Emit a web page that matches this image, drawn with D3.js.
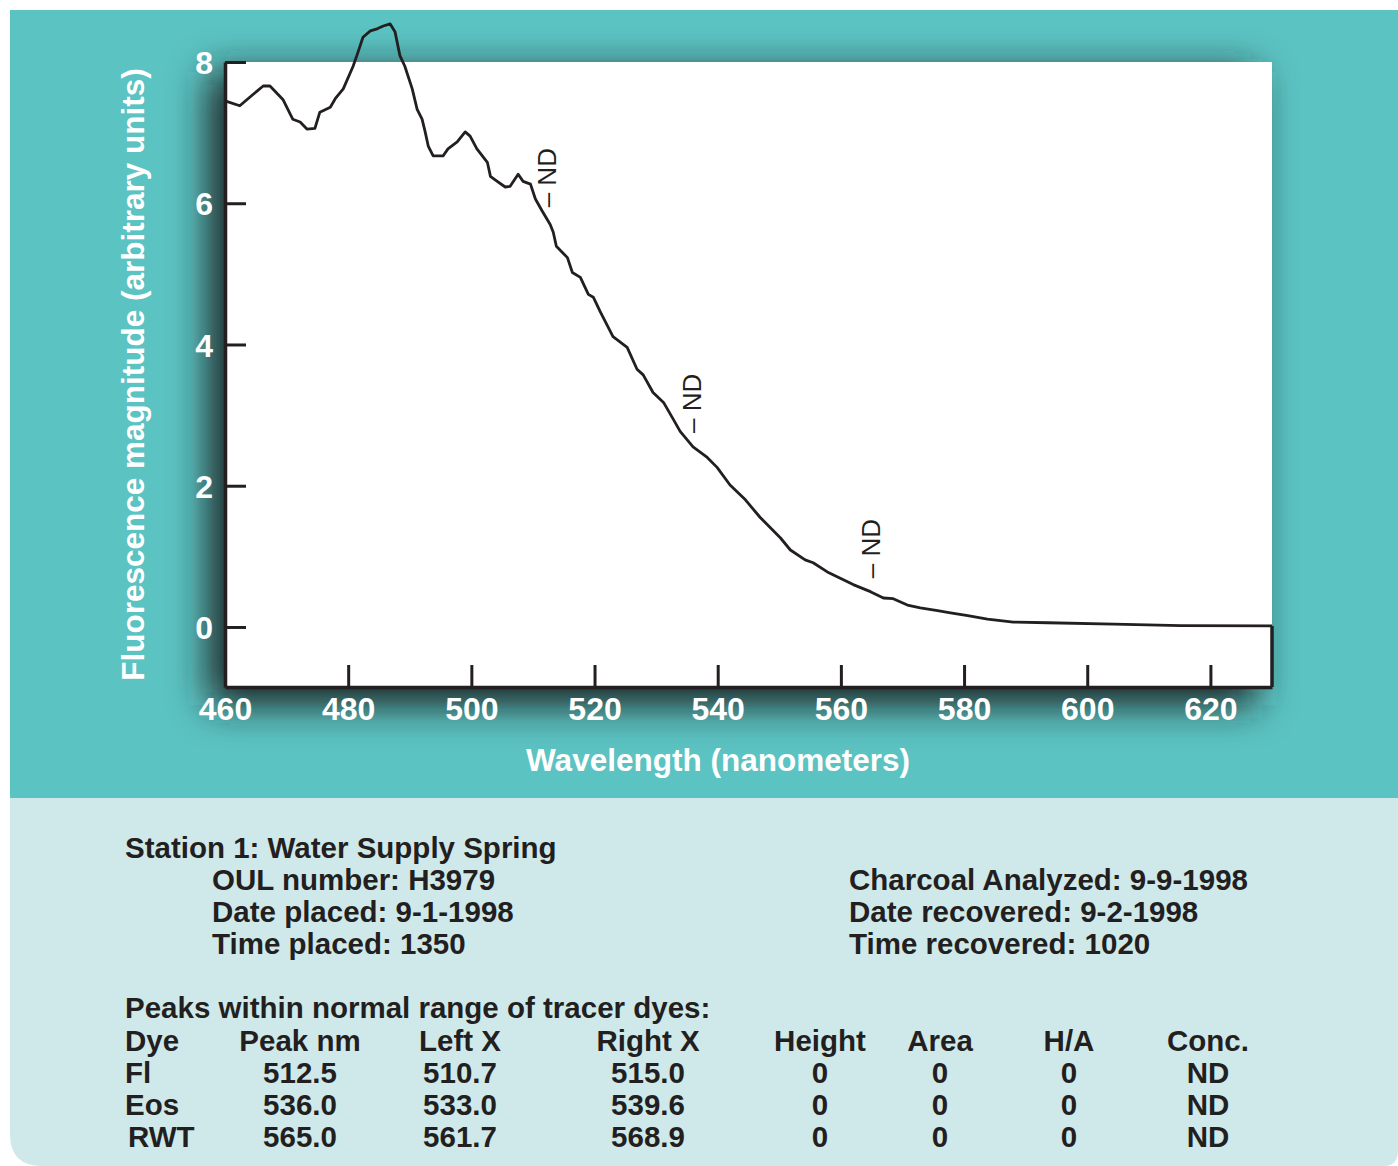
<!DOCTYPE html>
<html>
<head>
<meta charset="utf-8">
<script src="https://cdn.jsdelivr.net/npm/d3@7"></script>
<style>
  body { margin: 0; background: #fff; }
  svg { display: block; }
</style>
</head>
<body>
<div id="container"></div>
<script>
/* CONSTANTS AND GLOBALS */
const width = 1398,
  height = 1166,
  plot = { left: 225, right: 1272, top: 62, bottom: 687 };

const teal = "#5bc3c2",
  pale = "#cfe9ea",
  ink = "#231f20";

/* DATA */
// spectrum
const wavelength = [
  460.0, 462.4, 464.4, 466.2, 467.3, 469.4, 471.0, 472.2, 473.3, 474.6,
  475.4, 477.1, 477.9, 479.2, 480.8, 481.6, 482.4, 483.6, 484.7, 485.7,
  486.8, 487.6, 488.4, 489.2, 490.4, 491.2, 492.0, 492.5, 493.0, 493.8,
  495.4, 496.2, 497.7, 499.0, 499.8, 500.9, 502.6, 503.1, 504.2, 505.5,
  506.3, 507.6, 508.4, 509.6, 510.4, 511.5, 512.8, 513.3, 513.8, 515.6,
  516.4, 517.7, 519.0, 519.8, 520.9, 523.0, 525.3, 526.9, 527.9, 529.5,
  531.2, 532.8, 533.9, 536.0, 538.3, 539.9, 542.0, 544.5, 546.9, 550.2,
  551.8, 554.2, 555.5, 557.8, 559.9, 562.0, 564.8, 566.9, 568.5, 570.8,
  572.9, 575.7, 577.8, 580.6, 583.8, 588.0, 593.6, 604.3, 615.2, 630.0
];
const magnitude = [
  7.45, 7.38, 7.53, 7.66, 7.66, 7.47, 7.19, 7.15, 7.05, 7.06,
  7.29, 7.36, 7.48, 7.62, 7.94, 8.14, 8.35, 8.44, 8.47, 8.51,
  8.54, 8.43, 8.09, 7.94, 7.62, 7.33, 7.19, 7.01, 6.81, 6.67,
  6.67, 6.77, 6.87, 7.01, 6.95, 6.77, 6.58, 6.38, 6.31, 6.23,
  6.24, 6.41, 6.31, 6.27, 6.06, 5.89, 5.70, 5.59, 5.39, 5.23,
  5.02, 4.95, 4.71, 4.67, 4.47, 4.11, 3.96, 3.65, 3.57, 3.32,
  3.18, 2.94, 2.77, 2.55, 2.40, 2.26, 2.01, 1.80, 1.55, 1.26,
  1.09, 0.95, 0.91, 0.78, 0.69, 0.60, 0.50, 0.41, 0.40, 0.31,
  0.27, 0.23, 0.20, 0.16, 0.11, 0.07, 0.06, 0.04, 0.02, 0.015
];

const xTicks = [460, 480, 500, 520, 540, 560, 580, 600, 620];
const yTicks = [0, 2, 4, 6, 8];

// peak table
const dyes = ["Fl", "Eos", "RWT"];
const peakNm = [512.5, 536.0, 565.0];
const leftX = [510.7, 533.0, 561.7];
const rightX = [515.0, 539.6, 568.9];
const peakHeight = [0, 0, 0];
const peakArea = [0, 0, 0];
const peakHA = [0, 0, 0];
const conc = ["ND", "ND", "ND"];

const stationLines = ["OUL number: H3979", "Date placed: 9-1-1998", "Time placed: 1350"];
const recoveryLines = ["Charcoal Analyzed: 9-9-1998", "Date recovered: 9-2-1998", "Time recovered: 1020"];

const spectrum = wavelength.map((w, i) => ({ nm: w, value: magnitude[i] }));

/* SCALES */
const xScale = d3.scaleLinear().domain([460, 630]).range([plot.left, plot.right]);
const yScale = d3.scaleLinear().domain([-0.85, 8]).range([plot.bottom, plot.top]);

// value of the curve at a wavelength, for placing the ND marks
function valueAt(nm) {
  const i = d3.bisector(d => d.nm).right(spectrum, nm);
  const a = spectrum[i - 1], b = spectrum[i];
  const t = (nm - a.nm) / (b.nm - a.nm);
  return a.value + t * (b.value - a.value);
}

/* DRAW */
const svg = d3.select("#container")
  .append("svg")
  .attr("width", width)
  .attr("height", height)
  .style("font-family", "'Liberation Sans', Arial, Helvetica, sans-serif");

const defs = svg.append("defs");
const shadow = defs.append("filter")
  .attr("id", "shadow")
  .attr("x", "-20%").attr("y", "-20%")
  .attr("width", "140%").attr("height", "140%");
shadow.append("feGaussianBlur").attr("stdDeviation", 19);

// panels
svg.append("rect")
  .attr("x", 10).attr("y", 10)
  .attr("width", width - 10).attr("height", 788)
  .attr("fill", teal);

svg.append("path")
  .attr("d", `M10,798 H${width} V1150 Q${width},1166 1384,1166 H42 Q10,1166 10,1134 Z`)
  .attr("fill", pale);

// shadow + white plot area
svg.append("rect")
  .attr("x", plot.left - 16).attr("y", plot.top + 10)
  .attr("width", plot.right - plot.left).attr("height", plot.bottom - plot.top + 8)
  .attr("fill", "#1c2222")
  .attr("opacity", 1)
  .attr("filter", "url(#shadow)");

svg.append("rect")
  .attr("x", plot.left).attr("y", plot.top)
  .attr("width", plot.right - plot.left).attr("height", plot.bottom - plot.top)
  .attr("fill", "#fff");

// axes
const xAxis = svg.append("g")
  .attr("transform", `translate(0,${plot.bottom})`)
  .call(d3.axisBottom(xScale).tickValues(xTicks).tickSizeInner(-22).tickSizeOuter(0).tickPadding(10));

const yAxis = svg.append("g")
  .attr("transform", `translate(${plot.left},0)`)
  .call(d3.axisLeft(yScale).tickValues(yTicks).tickSizeInner(-21).tickSizeOuter(0).tickPadding(12));

[xAxis, yAxis].forEach(ax => {
  ax.selectAll("path.domain").attr("stroke", ink).attr("stroke-width", 3.5);
  ax.selectAll(".tick line").attr("stroke", ink).attr("stroke-width", 3);
  ax.selectAll(".tick text")
    .attr("fill", "#fff")
    .style("font-family", "'Liberation Sans', Arial, sans-serif")
    .style("font-weight", "bold")
    .style("font-size", "32px");
});
yAxis.selectAll(".tick text").attr("dy", "0.36em");

// right edge drop from the end of the trace
const last = spectrum[spectrum.length - 1];
svg.append("line")
  .attr("x1", xScale(last.nm)).attr("x2", xScale(last.nm))
  .attr("y1", yScale(last.value)).attr("y2", plot.bottom)
  .attr("stroke", ink).attr("stroke-width", 3.5);

// spectrum line
svg.append("path")
  .datum(spectrum)
  .attr("fill", "none")
  .attr("stroke", ink)
  .attr("stroke-width", 2.8)
  .attr("stroke-linejoin", "round")
  .attr("d", d3.line().x(d => xScale(d.nm)).y(d => yScale(d.value)));

// ND marks at the dye peaks
svg.selectAll("text.nd")
  .data(peakNm)
  .join("text")
  .attr("class", "nd")
  .attr("transform", d => `translate(${xScale(d) + 8},${yScale(valueAt(d)) - 14}) rotate(-90)`)
  .attr("fill", ink)
  .style("font-size", "26px")
  .text("– ND");

// axis titles
svg.append("text")
  .attr("transform", `translate(144,${(plot.top + plot.bottom) / 2}) rotate(-90)`)
  .attr("text-anchor", "middle")
  .attr("fill", "#fff")
  .style("font-weight", "bold")
  .style("font-size", "31.5px")
  .text("Fluorescence magnitude (arbitrary units)");

svg.append("text")
  .attr("x", 718).attr("y", 771)
  .attr("text-anchor", "middle")
  .attr("fill", "#fff")
  .style("font-weight", "bold")
  .style("font-size", "31.5px")
  .text("Wavelength (nanometers)");

/* INFO PANEL */
const info = svg.append("g")
  .attr("fill", ink)
  .style("font-weight", "bold")
  .style("font-size", "29.5px");

info.append("text").attr("x", 125).attr("y", 858).text("Station 1: Water Supply Spring");
info.selectAll("text.station")
  .data(stationLines)
  .join("text")
  .attr("class", "station")
  .attr("x", 212).attr("y", (d, i) => 890 + i * 32)
  .text(d => d);
info.selectAll("text.recovery")
  .data(recoveryLines)
  .join("text")
  .attr("class", "recovery")
  .attr("x", 849).attr("y", (d, i) => 890 + i * 32)
  .text(d => d);

info.append("text").attr("x", 125).attr("y", 1018).text("Peaks within normal range of tracer dyes:");

const columns = [
  { head: "Peak nm", cx: 300, vals: peakNm.map(v => v.toFixed(1)) },
  { head: "Left X", cx: 460, vals: leftX.map(v => v.toFixed(1)) },
  { head: "Right X", cx: 648, vals: rightX.map(v => v.toFixed(1)) },
  { head: "Height", cx: 820, vals: peakHeight.map(String) },
  { head: "Area", cx: 940, vals: peakArea.map(String) },
  { head: "H/A", cx: 1069, vals: peakHA.map(String) },
  { head: "Conc.", cx: 1208, vals: conc }
];
const rowY = [1083, 1115, 1147];

info.append("text").attr("x", 125).attr("y", 1051).text("Dye");
info.selectAll("text.dye")
  .data(dyes)
  .join("text")
  .attr("class", "dye")
  .attr("x", (d, i) => i === 2 ? 128 : 125)
  .attr("y", (d, i) => rowY[i])
  .text(d => d);

columns.forEach(col => {
  info.append("text")
    .attr("x", col.cx).attr("y", 1051)
    .attr("text-anchor", "middle")
    .text(col.head);
  col.vals.forEach((v, i) => {
    info.append("text")
      .attr("x", col.cx).attr("y", rowY[i])
      .attr("text-anchor", "middle")
      .text(v);
  });
});
</script>
</body>
</html>
